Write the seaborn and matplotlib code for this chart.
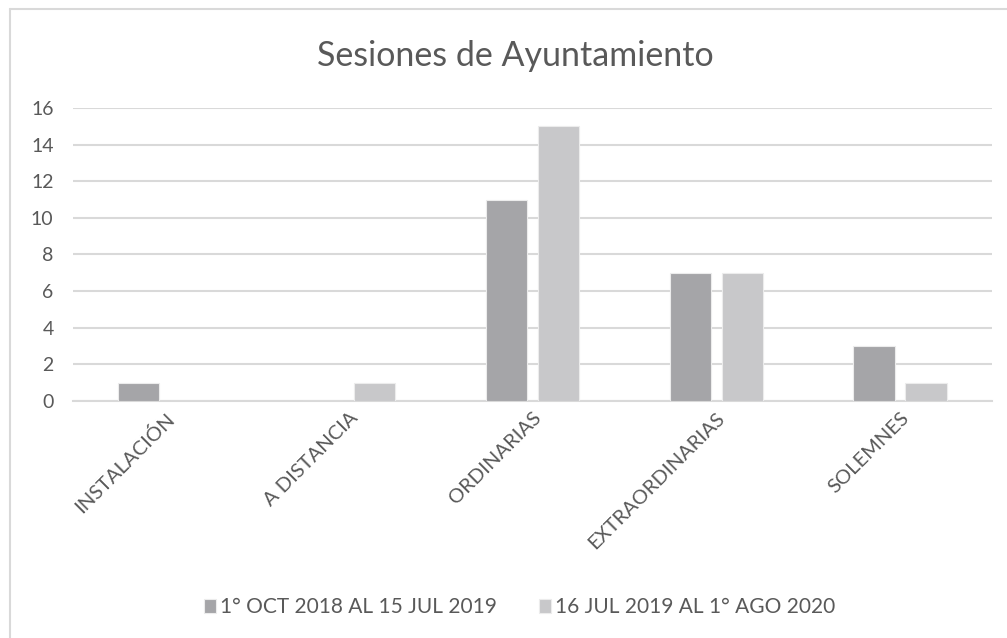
import matplotlib
matplotlib.use('Agg')

import matplotlib.pyplot as plt
import seaborn as sns
import pandas as pd
from matplotlib.lines import Line2D

categorias = ["INSTALACIÓN", "A DISTANCIA", "ORDINARIAS", "EXTRAORDINARIAS", "SOLEMNES"]
periodo_1 = [1, 0, 11, 7, 3]
periodo_2 = [0, 1, 15, 7, 1]
series = ["1° OCT 2018 AL 15 JUL 2019", "16 JUL 2019 AL 1° AGO 2020"]
colores = ["#a5a5a8", "#c8c8ca"]

df = pd.DataFrame({
    "categoria": categorias * 2,
    "valor": periodo_1 + periodo_2,
    "serie": [series[0]] * 5 + [series[1]] * 5,
})

sns.set_theme(style="white")
plt.rcParams['font.family'] = ['Lato', 'DejaVu Sans']
gris = "#595959"

fig = plt.figure(figsize=(10.07, 6.38), dpi=100)
ax = fig.add_axes([0.0725, 0.3715, 0.9125, 0.4592])

sns.barplot(data=df, x="categoria", y="valor", hue="serie", order=categorias,
            hue_order=series, palette=colores, width=0.566, gap=0.21,
            edgecolor="#ececec", linewidth=0.8, ax=ax, zorder=3)

ax.set_ylim(0, 16)
ax.set_yticks(range(0, 17, 2))
ax.yaxis.grid(True, color="#d9d9d9", linewidth=1.5, zorder=0)
ax.set_axisbelow(True)
for s in ["left", "right", "top"]:
    ax.spines[s].set_visible(False)
ax.spines["bottom"].set_color("#d9d9d9")
ax.spines["bottom"].set_linewidth(1.5)
ax.set_xlabel("")
ax.set_ylabel("")
ax.tick_params(axis="x", length=0, colors=gris, labelsize=14.5, pad=6)
ax.tick_params(axis="y", length=0, colors=gris, labelsize=14, pad=14)
plt.setp(ax.get_xticklabels(), rotation=45, ha="right", rotation_mode="anchor")
for lbl in ax.get_xticklabels():
    lbl.set_x(lbl.get_position()[0])

fig.text(0.512, 0.912, "Sesiones de Ayuntamiento", ha="center", va="center",
         fontsize=24.5, color=gris)

handles, labels = ax.get_legend_handles_labels()
ax.legend(handles, labels, loc="center", bbox_to_anchor=(0.516, 0.048),
          bbox_transform=fig.transFigure, ncol=2, frameon=False, fontsize=15,
          handlelength=0.6, handleheight=0.6, handletextpad=0.2, columnspacing=2.0,
          labelcolor=gris)

# borde del gráfico (solo izquierdo y superior visibles)
fig.add_artist(Line2D([0.0095, 0.0095], [0, 0.986], color="#d9d9d9", linewidth=1.5,
                      transform=fig.transFigure))
fig.add_artist(Line2D([0.0095, 1], [0.986, 0.986], color="#d9d9d9", linewidth=1.5,
                      transform=fig.transFigure))

fig.savefig("out.png", dpi=100)
